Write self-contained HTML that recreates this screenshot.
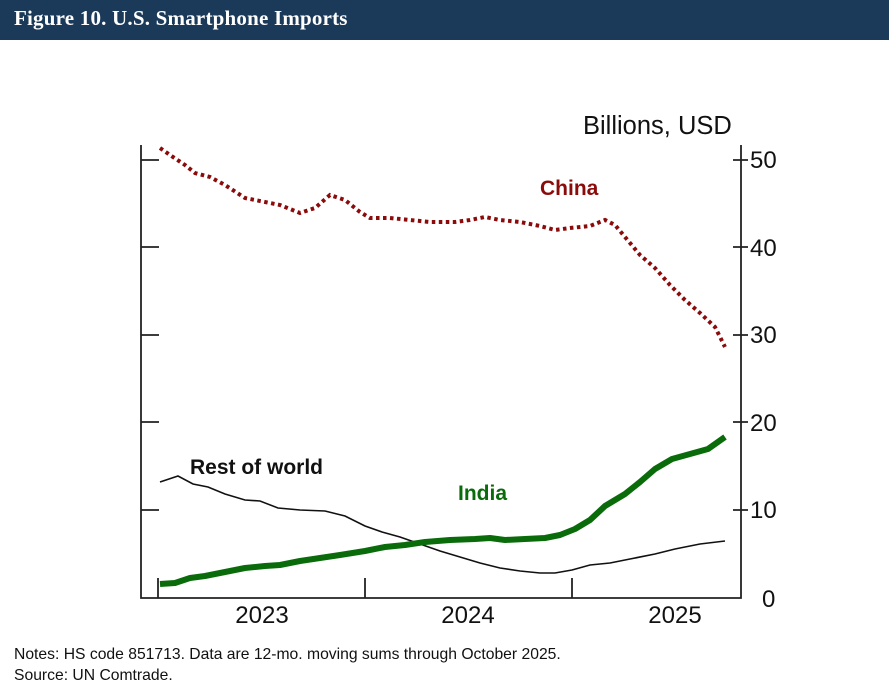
<!DOCTYPE html>
<html><head><style>
body{margin:0;width:889px;height:689px;background:#fff;overflow:hidden;font-family:"Liberation Sans",sans-serif}
.hdr{position:absolute;left:0;top:0;width:889px;height:40px;background:#1b3a5a}
.hdr span{position:absolute;left:14px;top:6px;color:#fff;font-family:"Liberation Serif",serif;font-size:21px;font-weight:bold;letter-spacing:0.2px}
.notes{position:absolute;left:14px;top:644px;font-size:15.7px;color:#111;line-height:21px}
</style></head><body>
<div class="hdr"><span>Figure 10. U.S. Smartphone Imports</span></div>
<svg width="889" height="689" style="position:absolute;left:0;top:0">
<g stroke="#222" stroke-width="1.8" fill="none">
<path d="M141 145V598H741V145"/>
<path d="M141 160H159M141 247H159M141 335H159M141 422H159M141 510H159"/>
<path d="M733 160H748M733 247H748M733 335H748M733 422H748M733 510H748"/>
<path d="M158 598V578M365 598V578M572 598V578"/>
</g>
<g font-size="24" fill="#111">
<text x="583" y="134" font-size="25.5">Billions, USD</text>
<text x="750" y="168">50</text><text x="750" y="256">40</text><text x="750" y="343">30</text><text x="750" y="431">20</text><text x="750" y="518">10</text><text x="762" y="607">0</text>
<text x="262" y="623" text-anchor="middle">2023</text><text x="468" y="623" text-anchor="middle">2024</text><text x="675" y="623" text-anchor="middle">2025</text>
</g>
<g font-size="21" font-weight="bold">
<text x="540" y="195" fill="#8b0a0a">China</text>
<text x="190" y="474" fill="#111">Rest of world</text>
<text x="458" y="500" fill="#0a6b0a">India</text>
</g>
<polyline fill="none" stroke="#8b0a0a" stroke-width="4" stroke-dasharray="3.5 3.5" points="160,148 170,155 185,165 195,173 210,177 225,185 245,198 265,202 280,205 300,213 315,208 330,195 345,200 360,212 370,218 390,218 410,220 430,222 455,222 470,220 485,217 500,220 520,222 540,226 555,230 570,228 590,226 605,220 615,225 625,237 640,255 655,268 670,285 685,300 700,313 715,327 725,347"/>
<polyline fill="none" stroke="#111" stroke-width="1.6" points="160,482 178,476 193,484 208,487 225,494 245,500 260,501 278,508 300,510 325,511 345,516 365,526 382,532 400,537 420,544 440,551 460,557 480,563 500,568 520,571 540,573 555,573 572,570 590,565 610,563 630,559 655,554 675,549 700,544 725,541"/>
<polyline fill="none" stroke="#0a6b0a" stroke-width="6" stroke-linejoin="round" points="160,584 175,583 190,578 205,576 225,572 245,568 265,566 280,565 300,561 320,558 340,555 365,551 385,547 405,545 425,542 450,540 475,539 490,538 505,540 525,539 545,538 560,535 575,529 590,520 605,506 625,494 640,482 655,469 672,459 690,454 708,449 725,437"/>
</svg>
<div class="notes">Notes: HS code 851713. Data are 12-mo. moving sums through October 2025.<br>Source: UN Comtrade.</div>
</body></html>
